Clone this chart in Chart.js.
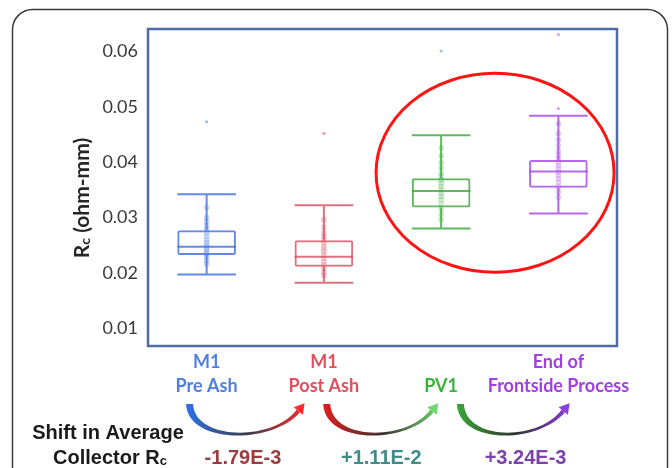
<!DOCTYPE html>
<html lang="en">
<head>
<meta charset="UTF-8">
<title>Collector Rc by process step</title>
<script src="https://cdn.jsdelivr.net/npm/chart.js"></script>
<style>
body { margin: 0; background: #fff; }
#wrap { width: 672px; height: 468px; }
</style>
</head>
<body>
<div id="wrap"><canvas id="chart" width="672" height="468"></canvas></div>
<script>
// data
const categories = ['M1 Pre Ash', 'M1 Post Ash', 'PV1', 'End of Frontside Process'];
const categoryLines = [['M1', 'Pre Ash'], ['M1', 'Post Ash'], ['', 'PV1'], ['End of', 'Frontside Process']];
const whiskerLow = [0.0197, 0.0182, 0.0280, 0.0307];
const q1 = [0.0232, 0.0211, 0.0318, 0.0354];
const median = [0.0247, 0.0229, 0.0348, 0.0383];
const q3 = [0.0277, 0.0259, 0.0371, 0.0404];
const whiskerHigh = [0.0342, 0.0322, 0.0449, 0.0484];
const outliers = [[0.0473], [0.0452], [0.0601], [0.0631, 0.0497]];
const samples = [
  [0.0318, 0.0300, 0.0292, 0.0285, 0.0278, 0.0272, 0.0266, 0.0260, 0.0255, 0.0250, 0.0246, 0.0242, 0.0238, 0.0234, 0.0228, 0.0222, 0.0216],
  [0.0296, 0.0282, 0.0272, 0.0266, 0.0260, 0.0254, 0.0248, 0.0243, 0.0238, 0.0232, 0.0226, 0.0220, 0.0214, 0.0208, 0.0201, 0.0195],
  [0.0426, 0.0412, 0.0400, 0.0390, 0.0380, 0.0374, 0.0368, 0.0362, 0.0356, 0.0350, 0.0344, 0.0338, 0.0332, 0.0325, 0.0316, 0.0306, 0.0296],
  [0.0470, 0.0452, 0.0440, 0.0430, 0.0420, 0.0412, 0.0406, 0.0400, 0.0394, 0.0388, 0.0382, 0.0376, 0.0370, 0.0364, 0.0356, 0.0346, 0.0336]
];
const yMin = 0.00675;
const yMax = 0.0641;
const shiftLabels = ['-1.79E-3', '+1.11E-2', '+3.24E-3'];

// colours
const boxColors = ['rgba(72,118,225,0.85)', 'rgba(214,78,95,0.8)', 'rgba(66,172,66,0.85)', 'rgba(168,76,235,0.85)'];
const dotColors = ['rgba(72,118,225,0.22)', 'rgba(214,78,95,0.22)', 'rgba(66,172,66,0.22)', 'rgba(168,76,235,0.22)'];
const labelColors = ['#4f7fe3', '#e0505f', '#3cb33c', '#a23de2'];
const shiftColors = ['#9b3b42', '#3f8c88', '#7b42aa'];
const arrowColors = [
  ['#2f6fe0', '#3a3d4a', '#ff2a2a'],
  ['#d81e1e', '#3a3030', '#6fd86f'],
  ['#3aa03a', '#2e332e', '#8e3de0']
];

// annotation placement (category units / values)
const arrowSpans = [[-0.15, 0.85], [1.02, 1.99], [2.16, 3.11]];
const shiftAt = [0.31, 1.49, 2.72];
const ring = { x: 2.46, y: 0.0381, rx: 1.015, ry: 0.0180 };

const boxPlugin = {
  id: 'boxplot',
  beforeDraw(chart) {
    const ctx = chart.ctx;
    ctx.save();
    // outer rounded frame of the figure
    ctx.strokeStyle = '#3a3a3a';
    ctx.lineWidth = 1.5;
    ctx.beginPath();
    ctx.roundRect(12.5, 9.5, 655, 480, 20);
    ctx.stroke();
    ctx.restore();
  },
  afterDatasetsDraw(chart) {
    const { ctx, scales: { x, y } } = chart;
    const half = x.width / categories.length * 0.25;
    ctx.save();
    ctx.lineWidth = 2;
    categories.forEach((c, i) => {
      const cx = x.getPixelForValue(i);
      ctx.strokeStyle = boxColors[i];
      ctx.beginPath();
      ctx.moveTo(cx, y.getPixelForValue(q3[i]));
      ctx.lineTo(cx, y.getPixelForValue(whiskerHigh[i]));
      ctx.moveTo(cx, y.getPixelForValue(q1[i]));
      ctx.lineTo(cx, y.getPixelForValue(whiskerLow[i]));
      [whiskerHigh[i], whiskerLow[i], median[i]].forEach(v => {
        const py = y.getPixelForValue(v);
        ctx.moveTo(cx - half, py);
        ctx.lineTo(cx + half, py);
      });
      ctx.stroke();
    });
    ctx.restore();
  },
  afterDraw(chart) {
    const { ctx, chartArea: a, scales: { x, y } } = chart;
    ctx.save();

    // plot frame
    ctx.strokeStyle = '#4d6ca6';
    ctx.lineWidth = 2.5;
    ctx.strokeRect(a.left, a.top, a.right - a.left, a.bottom - a.top);

    // red ring around PV1 / End of Frontside
    ctx.strokeStyle = '#ff1414';
    ctx.lineWidth = 3;
    ctx.beginPath();
    const ex = x.getPixelForValue(ring.x);
    const ey = y.getPixelForValue(ring.y);
    const erx = x.getPixelForValue(ring.x + ring.rx) - ex;
    const ery = y.getPixelForValue(ring.y - ring.ry) - ey;
    ctx.ellipse(ex, ey, erx, ery, 0, 0, Math.PI * 2);
    ctx.stroke();

    // y axis title, R with subscript c
    ctx.fillStyle = '#262626';
    ctx.translate(82, 198);
    ctx.rotate(-Math.PI / 2);
    ctx.textBaseline = 'middle';
    ctx.textAlign = 'left';
    const big = 'bold 21px Lato';
    const small = 'bold 14px Lato';
    ctx.font = big;
    const wR = ctx.measureText('R').width;
    const wRest = ctx.measureText(' (ohm-mm)').width;
    ctx.font = small;
    const wc = ctx.measureText('c').width;
    let tx = -(wR + wc + wRest) / 2;
    ctx.font = big;
    ctx.fillText('R', tx, 0);
    ctx.font = small;
    ctx.fillText('c', tx + wR, 3);
    ctx.font = big;
    ctx.fillText(' (ohm-mm)', tx + wR + wc, 0);
    ctx.setTransform(1, 0, 0, 1, 0, 0);

    // curved arrows between steps
    const yTop = a.bottom + 58;
    const depth = 30;
    arrowSpans.forEach((s, i) => {
      const x0 = x.getPixelForValue(s[0]);
      const x1 = x.getPixelForValue(s[1]);
      const grad = ctx.createLinearGradient(x0, 0, x1, 0);
      grad.addColorStop(0, arrowColors[i][0]);
      grad.addColorStop(0.5, arrowColors[i][1]);
      grad.addColorStop(1, arrowColors[i][2]);
      const ex1 = x1 - 8, ey1 = yTop + 7;
      const c2x = x1 - 34, c2y = yTop + depth * 1.3;
      // tapered body: outer edge then inner edge
      ctx.beginPath();
      ctx.moveTo(x0 - 3, yTop);
      ctx.bezierCurveTo(x0 - 1, yTop + depth * 1.36, c2x, yTop + depth * 1.34, ex1 + 1.5, ey1 + 1.5);
      ctx.lineTo(ex1 - 1.5, ey1 - 1.5);
      ctx.bezierCurveTo(c2x + 2, yTop + depth * 1.24, x0 + 6, yTop + depth * 1.24, x0 + 4, yTop);
      ctx.closePath();
      ctx.fillStyle = grad;
      ctx.fill();
      // head
      let dx = ex1 - c2x, dy = ey1 - c2y;
      const len = Math.hypot(dx, dy);
      dx /= len; dy /= len;
      const tipX = ex1 + dx * 10, tipY = ey1 + dy * 10;
      ctx.beginPath();
      ctx.moveTo(tipX, tipY);
      ctx.lineTo(ex1 - dy * 6, ey1 + dx * 6);
      ctx.lineTo(ex1 + dy * 6, ey1 - dx * 6);
      ctx.closePath();
      ctx.fillStyle = arrowColors[i][2];
      ctx.fill();
    });

    // shift values
    ctx.textAlign = 'center';
    ctx.textBaseline = 'middle';
    ctx.font = 'bold 20px "Liberation Sans", Arial, sans-serif';
    shiftLabels.forEach((t, i) => {
      ctx.fillStyle = shiftColors[i];
      ctx.fillText(t, x.getPixelForValue(shiftAt[i]), 458);
    });

    // left caption
    ctx.fillStyle = '#1a1a1a';
    ctx.fillText('Shift in Average', 108, 433);
    const wCol = ctx.measureText('Collector R').width;
    ctx.font = 'bold 13px "Liberation Sans", Arial, sans-serif';
    const wSub = ctx.measureText('c').width;
    const sx = 110 - (wCol + wSub) / 2;
    ctx.textAlign = 'left';
    ctx.fillText('c', sx + wCol, 461);
    ctx.font = 'bold 20px "Liberation Sans", Arial, sans-serif';
    ctx.fillText('Collector R', sx, 458);

    ctx.restore();
  }
};

const datasets = [{
  type: 'bar',
  label: 'IQR',
  data: q1.map((v, i) => [v, q3[i]]),
  backgroundColor: 'rgba(255,255,255,0)',
  borderColor: boxColors,
  borderWidth: 2,
  borderSkipped: false,
  borderRadius: 2,
  barPercentage: 0.5,
  categoryPercentage: 1,
  order: 3
}];
samples.forEach((arr, i) => {
  datasets.push({
    type: 'line',
    label: categories[i] + ' samples',
    data: arr.map(v => ({ x: categories[i], y: v })),
    showLine: false,
    pointRadius: 2.6,
    pointBorderWidth: 0.8,
    pointBackgroundColor: dotColors[i],
    pointBorderColor: dotColors[i],
    order: 1
  });
});
outliers.forEach((arr, i) => {
  datasets.push({
    type: 'line',
    label: categories[i] + ' outliers',
    data: arr.map(v => ({ x: categories[i], y: v })),
    showLine: false,
    pointRadius: 1.6,
    pointBorderWidth: 0,
    pointBackgroundColor: dotColors[i].replace('0.22', '0.5'),
    order: 1
  });
});

new Chart(document.getElementById('chart'), {
  type: 'bar',
  data: { labels: categories, datasets: datasets },
  options: {
    responsive: false,
    animation: false,
    layout: { padding: { left: 0, right: 55, top: 29, bottom: 0 } },
    plugins: { legend: { display: false }, tooltip: { enabled: false } },
    scales: {
      x: {
        offset: true,
        grid: { display: false, drawTicks: false },
        border: { display: false },
        ticks: {
          autoSkip: false,
          maxRotation: 0,
          padding: 4,
          callback: (v, i) => categoryLines[i],
          color: c => labelColors[c.index],
          font: { family: 'Lato', size: 18, weight: 'bold', lineHeight: 1.35 }
        },
        afterFit: s => { s.height = 122; }
      },
      y: {
        min: yMin,
        max: yMax,
        grid: { display: false, drawTicks: false },
        border: { display: false },
        ticks: {
          stepSize: 0.01,
          includeBounds: false,
          padding: 10,
          color: '#3a3a3a',
          font: { family: 'Lato', size: 18 },
          callback: v => v.toFixed(2)
        },
        afterFit: s => { s.width = 148; }
      }
    }
  },
  plugins: [boxPlugin]
});
</script>
</body>
</html>
